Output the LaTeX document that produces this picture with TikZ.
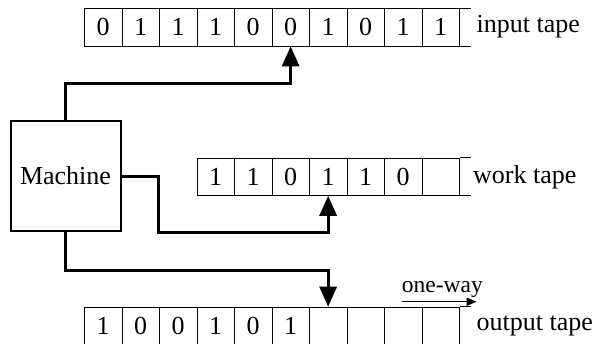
\documentclass[tikz,border=0pt]{standalone}
\usepackage{fontspec}
\setmainfont{Liberation Serif}
\usetikzlibrary{arrows.meta}
\begin{document}
\begin{tikzpicture}[x=1pt,y=1pt,
  txt/.style={font=\fontsize{26}{30}\selectfont},
  cell/.style={txt, draw, line width=0.8pt, minimum width=37.5pt,
    minimum height=37.5pt, inner sep=0pt, text height=17pt, text depth=0pt,
    anchor=north west},
  tapeend/.style={line width=0.8pt},
  label/.style={txt, anchor=base west, inner sep=0pt},
  conn/.style={line width=3pt, -{Triangle[width=17pt,length=20pt]}},
]
\useasboundingbox (0,0) rectangle (597,-343);

% input tape
\foreach \d [count=\i] in {0,1,1,1,0,0,1,0,1,1}
  \node[cell] (in-\i) at ({84+37.5*(\i-1)},-8) {\d};
\draw[tapeend] (in-10.north east) -- ++(11,0) (in-10.south east) -- ++(11,0);
\node[label] (in-lbl) at (476.5,-32) {input tape};

% work tape
\foreach \d [count=\i] in {1,1,0,1,1,0,{}}
  \node[cell] (w-\i) at ({196.5+37.5*(\i-1)},-157.5) {\d};
\draw[tapeend] (w-7.north east) -- ++(11,0) (w-7.south east) -- ++(11,0);
\node[label] (w-lbl) at (473,-183.5) {work tape};

% output tape
\foreach \d [count=\i] in {1,0,0,1,0,1,{},{},{},{}}
  \node[cell] (out-\i) at ({84+37.5*(\i-1)},-306.7) {\d};
\draw[tapeend] (out-10.north east) -- ++(11,0);
\node[label] (out-lbl) at (476.5,-330) {output tape};

% one-way marker
\node[font=\fontsize{23.5}{28}\selectfont, anchor=base west, inner sep=0pt]
  (ow) at (401.7,-292.7) {one-way};
\coordinate (ow-a) at (401.7,-301.7);
\coordinate (ow-b) at (476.7,-301.7);
\draw[line width=1.5pt, -{Triangle[width=8pt,length=10pt]}] (ow-a) -- (ow-b);

% machine
\node[txt, draw, line width=2pt, minimum width=110pt, minimum height=110pt,
  inner sep=0pt] (m) at (65.5,-176) {Machine};

% heads
\draw[conn] (m.north) -- ++(0,37) -| (in-6.south);
\draw[conn] (m.east) -- ++(36.6,0) |- (w-4.south |- m.south) -- (w-4.south);
\draw[conn] (m.south) -- ++(0,-38) -| (out-7.north);
\end{tikzpicture}
\end{document}
